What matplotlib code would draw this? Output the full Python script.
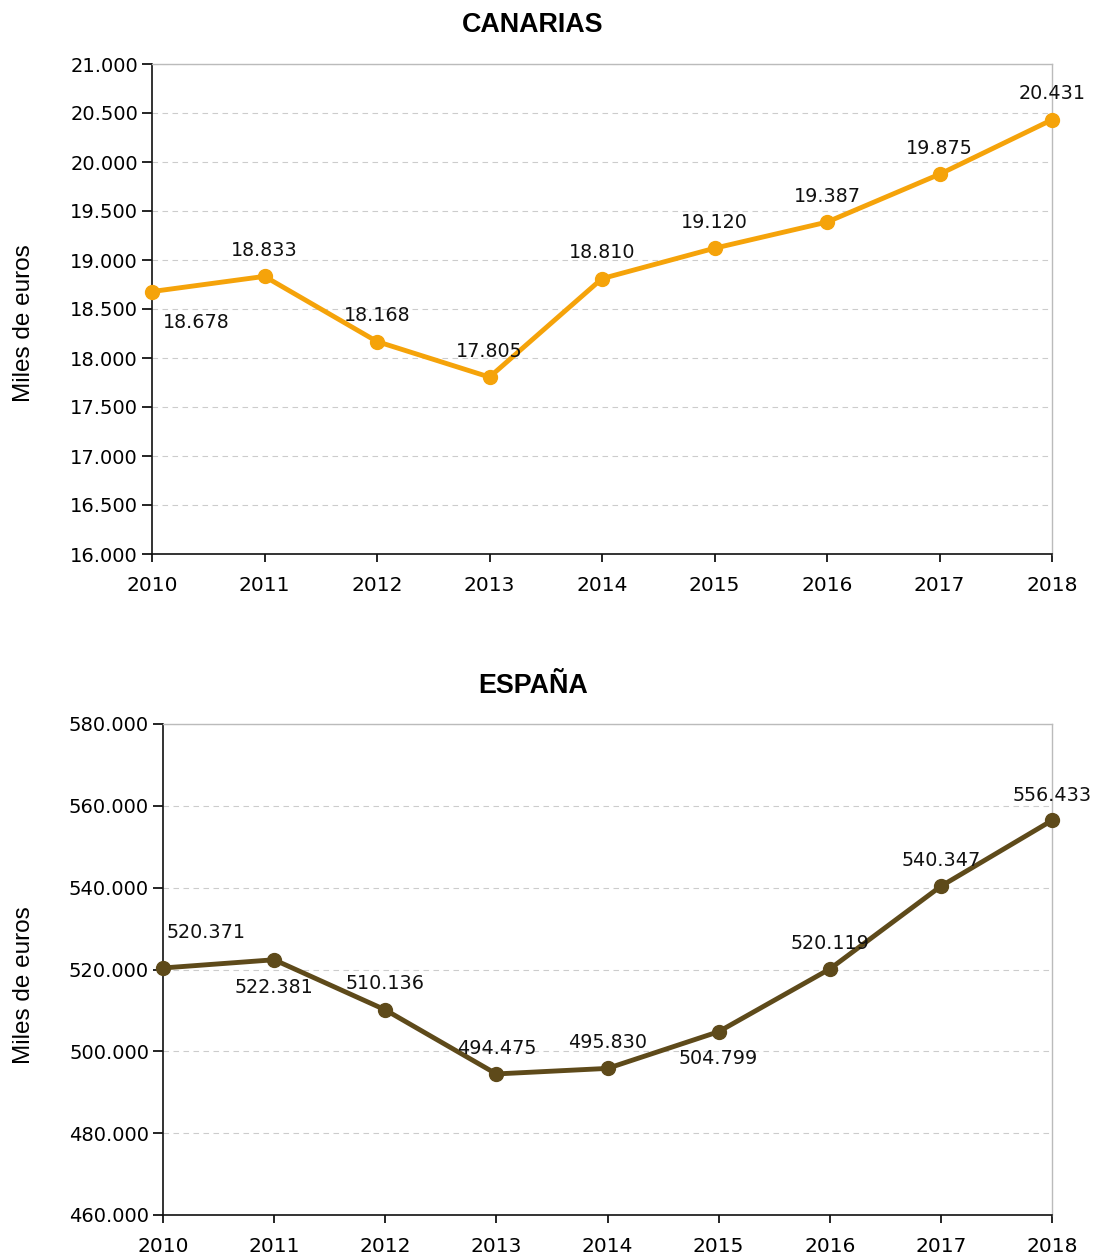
import matplotlib.pyplot as plt
import numpy as np

years = [2010, 2011, 2012, 2013, 2014, 2015, 2016, 2017, 2018]
canarias = [18678, 18833, 18168, 17805, 18810, 19120, 19387, 19875, 20431]
espana = [520371, 522381, 510136, 494475, 495830, 504799, 520119, 540347, 556433]

# label offsets in pixels (dx, dy)
off_can = [(44, -31), (0, 26), (0, 26), (0, 26), (0, 26), (0, 26), (0, 26), (0, 26), (0, 26)]
off_esp = [(43, 35), (0, -28), (0, 26), (0, 25), (0, 26), (0, -27), (0, 26), (0, 26), (0, 25)]

tick_font = "DejaVu Sans"
title_font = "Liberation Sans"


def fmt(v):
    return f"{v:,.0f}".replace(",", ".")


def draw(ax, values, color, yticks, offsets, title, title_y, label_y):
    ax.plot(years, values, color=color, lw=3.5, marker="o", ms=10, clip_on=False, zorder=3)
    for x, v, (dx, dy) in zip(years, values, offsets):
        ax.annotate(fmt(v), (x, v), xytext=(dx * 0.72, dy * 0.72), textcoords="offset points",
                    ha="center", va="center", fontsize=13.8, family=tick_font, color="#111111")
    ax.set_xlim(years[0], years[-1])
    ax.set_ylim(yticks[0], yticks[-1])
    ax.set_xticks(years)
    ax.set_yticks(yticks)
    ax.set_yticklabels([fmt(t) for t in yticks], family=tick_font, fontsize=14)
    ax.set_xticklabels([str(y) for y in years], family=tick_font, fontsize=14.5)
    ax.tick_params(axis="y", length=7, width=1.2, direction="out", pad=3)
    ax.tick_params(axis="x", length=6, width=1.2, direction="out", pad=10)
    ax.grid(axis="y", linestyle=(0, (5, 4)), color="#cccccc", lw=0.8)
    ax.set_axisbelow(True)
    for s in ["top", "right"]:
        ax.spines[s].set_color("#bbbbbb")
        ax.spines[s].set_linewidth(1)
    for s in ["left", "bottom"]:
        ax.spines[s].set_color("#111111")
        ax.spines[s].set_linewidth(1.2)
    ax.set_ylabel("Miles de euros", family=title_font, fontsize=17.5)
    ax.yaxis.set_label_coords(35 / 1094, 1 - label_y / 1254, transform=fig.transFigure)
    fig.text(533 / 1094, title_y, title, ha="center", va="center",
             family=title_font, fontweight="bold", fontsize=19.4)


fig = plt.figure(figsize=(10.94, 12.54), dpi=100)
ax1 = fig.add_axes([152 / 1094, 1 - 554 / 1254, 900 / 1094, 490 / 1254])
ax2 = fig.add_axes([163 / 1094, 1 - 1215 / 1254, 889 / 1094, 491 / 1254])

draw(ax1, canarias, "#f5a30a", np.arange(16000, 21001, 500), off_can, "CANARIAS", 1 - 25 / 1254, 323)
draw(ax2, espana, "#5e4a1a", np.arange(460000, 580001, 20000), off_esp, "ESPAÑA", 1 - 686 / 1254, 985)

fig.savefig("out.png", dpi=100)
